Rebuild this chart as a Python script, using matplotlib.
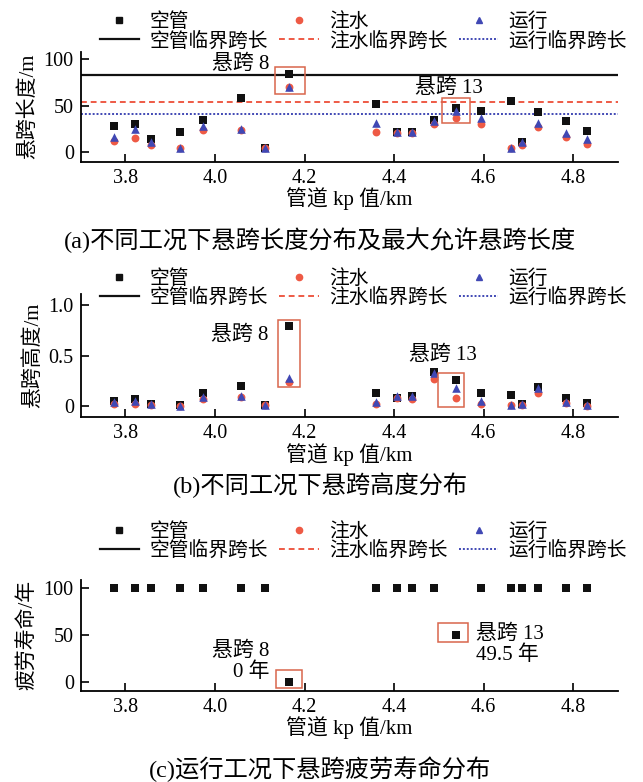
import numpy as np
import matplotlib
matplotlib.use("Agg")
import matplotlib.pyplot as plt
from matplotlib.lines import Line2D
from matplotlib.patches import Rectangle

plt.rcParams["font.family"] = ["Liberation Serif", "Noto Sans CJK SC"]
plt.rcParams["axes.unicode_minus"] = False

# --- data ------------------------------------------------------------------
kp = [3.774, 3.822, 3.857, 3.922, 3.973, 4.057, 4.111, 4.166, 4.360, 4.407,
      4.440, 4.489, 4.538, 4.595, 4.662, 4.686, 4.722, 4.785, 4.831]

# (a) span length, m
len_empty = [28.3, 30.4, 14.0, 22.2, 34.7, 58.0, 4.3, 84.2, 51.6, 21.5,
             22.0, 34.7, 47.3, 44.8, 55.2, 11.0, 43.7, 33.6, 23.2]
len_water = [12.5, 15.7, 7.5, 5.0, 24.0, 24.0, 4.3, 70.0, 22.2, 21.0,
             20.7, 30.8, 36.5, 30.4, 5.0, 8.2, 26.9, 16.8, 8.9]
len_oper = [16.1, 25.0, 11.4, 5.0, 28.3, 25.4, 4.3, 69.9, 31.2, 21.5,
            22.0, 33.6, 44.4, 37.2, 5.0, 11.0, 31.2, 21.0, 14.0]
crit_empty, crit_water, crit_oper = 82.5, 54.5, 41.0

# (b) span height, m
h_empty = [0.050, 0.070, 0.017, 0.010, 0.130, 0.200, 0.010, 0.795, 0.130, 0.076,
           0.100, 0.334, 0.255, 0.130, 0.110, 0.020, 0.190, 0.076, 0.033]
h_water = [0.017, 0.017, 0.010, 0.000, 0.070, 0.090, 0.010, 0.235, 0.017, 0.076,
           0.066, 0.265, 0.083, 0.017, 0.007, 0.015, 0.126, 0.033, 0.003]
h_oper = [0.043, 0.050, 0.017, 0.003, 0.093, 0.100, 0.010, 0.280, 0.043, 0.100,
          0.100, 0.324, 0.180, 0.053, 0.007, 0.020, 0.175, 0.043, 0.010]

# (c) fatigue life, years (operating condition)
life = [100, 100, 100, 100, 100, 100, 100, 0, 100, 100,
        100, 100, 49.5, 100, 100, 100, 100, 100, 100]

xticks = [3.8, 4.0, 4.2, 4.4, 4.6, 4.8]
xtick_labels = ["3.8", "4.0", "4.2", "4.4", "4.6", "4.8"]
yticks_a, ytick_labels_a = [0, 50, 100], ["0", "50", "100"]
yticks_b, ytick_labels_b = [0, 0.5, 1.0], ["0", "0.5", "1.0"]
yticks_c, ytick_labels_c = [0, 50, 100], ["0", "50", "100"]

labels = ["空管", "空管临界跨长", "注水", "注水临界跨长", "运行", "运行临界跨长"]
captions = ["(a)不同工况下悬跨长度分布及最大允许悬跨长度",
            "(b)不同工况下悬跨高度分布",
            "(c)运行工况下悬跨疲劳寿命分布"]

BLACK = "#111111"
RED = "#ee5a45"
BLUE = "#4048b4"
BOX = "#d9664c"

fig = plt.figure(figsize=(6.43, 7.82), dpi=100)

ax_a = fig.add_axes([0.1255, 0.7932, 0.8356, 0.1407])
ax_b = fig.add_axes([0.1255, 0.4671, 0.8356, 0.1570])
ax_c = fig.add_axes([0.1255, 0.1168, 0.8356, 0.1416])


def style(ax, ylim, yticks, ytlabels, ylabel):
    ax.set_xlim(3.70, 4.90)
    ax.set_ylim(*ylim)
    ax.spines["top"].set_visible(False)
    ax.spines["right"].set_visible(False)
    for s in ("left", "bottom"):
        ax.spines[s].set_linewidth(1.3)
    ax.set_xticks(xticks)
    ax.set_xticklabels(xtick_labels)
    ax.set_yticks(yticks)
    ax.set_yticklabels(ytlabels)
    ax.tick_params(direction="in", length=6, width=1.2, labelsize=14.5, pad=5)
    ax.set_xlabel("管道 kp 值/km", fontsize=15, labelpad=0)
    ax.set_ylabel(ylabel, fontsize=15, labelpad=4)


def legend(ax, y):
    handles = [
        Line2D([], [], ls="none", marker="s", color=BLACK, ms=4.5),
        Line2D([], [], color=BLACK, lw=1.6),
        Line2D([], [], ls="none", marker="o", color=RED, ms=4.5),
        Line2D([], [], color=RED, lw=1.4, ls=(0, (3, 2))),
        Line2D([], [], ls="none", marker="^", color=BLUE, ms=4.5),
        Line2D([], [], color=BLUE, lw=1.4, ls=(0, (1, 1))),
    ]
    fig.legend(handles, labels, ncol=3, loc="center", bbox_to_anchor=(0.565, y),
               frameon=False, fontsize=14.2, handlelength=2.0, handletextpad=0.5,
               columnspacing=0.6, labelspacing=0.02, borderpad=0)


def scatter3(ax, e, w, o):
    ax.scatter(kp, e, marker="s", s=30, color=BLACK, zorder=3, linewidths=0)
    ax.scatter(kp, w, marker="o", s=32, color=RED, zorder=4, linewidths=0)
    ax.scatter(kp, o, marker="^", s=38, color=BLUE, zorder=5, linewidths=0)


def box(ax, x0, x1, y0, y1):
    ax.add_patch(Rectangle((x0, y0), x1 - x0, y1 - y0, fill=False,
                           edgecolor=BOX, lw=1.1, zorder=6))


# --- (a) -------------------------------------------------------------------
style(ax_a, (-10, 108), yticks_a, ytick_labels_a, "悬跨长度/m")
ax_a.axhline(crit_empty, color=BLACK, lw=1.6, zorder=2)
ax_a.axhline(crit_water, color=RED, lw=1.4, ls=(0, (3, 2)), zorder=2)
ax_a.axhline(crit_oper, color=BLUE, lw=1.4, ls=(0, (1, 1)), zorder=2)
scatter3(ax_a, len_empty, len_water, len_oper)
box(ax_a, 4.135, 4.202, 62.4, 91.4)
box(ax_a, 4.508, 4.569, 31.8, 58.0)
ax_a.text(4.122, 94, "悬跨 8", ha="right", va="center", fontsize=15)
ax_a.text(4.522, 69, "悬跨 13", ha="center", va="center", fontsize=15)
legend(ax_a, 0.959)

# --- (b) -------------------------------------------------------------------
style(ax_b, (-0.106, 1.11), yticks_b, ytick_labels_b, "悬跨高度/m")
scatter3(ax_b, h_empty, h_water, h_oper)
box(ax_b, 4.141, 4.189, 0.191, 0.851)
box(ax_b, 4.499, 4.556, -0.013, 0.325)
ax_b.text(4.120, 0.705, "悬跨 8", ha="right", va="center", fontsize=15)
ax_b.text(4.509, 0.507, "悬跨 13", ha="center", va="center", fontsize=15)
legend(ax_b, 1 - 289 / 782)

# --- (c) -------------------------------------------------------------------
style(ax_c, (-9.6, 108.5), yticks_c, ytick_labels_c, "疲劳寿命/年")
ax_c.scatter(kp, life, marker="s", s=30, color=BLACK, zorder=3, linewidths=0)
box(ax_c, 4.137, 4.195, -6.8, 12.5)
box(ax_c, 4.498, 4.564, 41.8, 62.6)
ax_c.text(4.121, 21.5, "悬跨 8\n0 年", ha="right", va="center",
          multialignment="right", fontsize=15, linespacing=1.1)
ax_c.text(4.582, 39, "悬跨 13\n49.5 年", ha="left", va="center",
          multialignment="left", fontsize=15, linespacing=1.1)
legend(ax_c, 1 - 542 / 782)

# --- captions --------------------------------------------------------------
for txt, y in zip(captions, [240, 485, 769]):
    fig.text(0.498, 1 - y / 782, txt, ha="center", va="center", fontsize=17.5)

fig.savefig("out.png", dpi=100)
